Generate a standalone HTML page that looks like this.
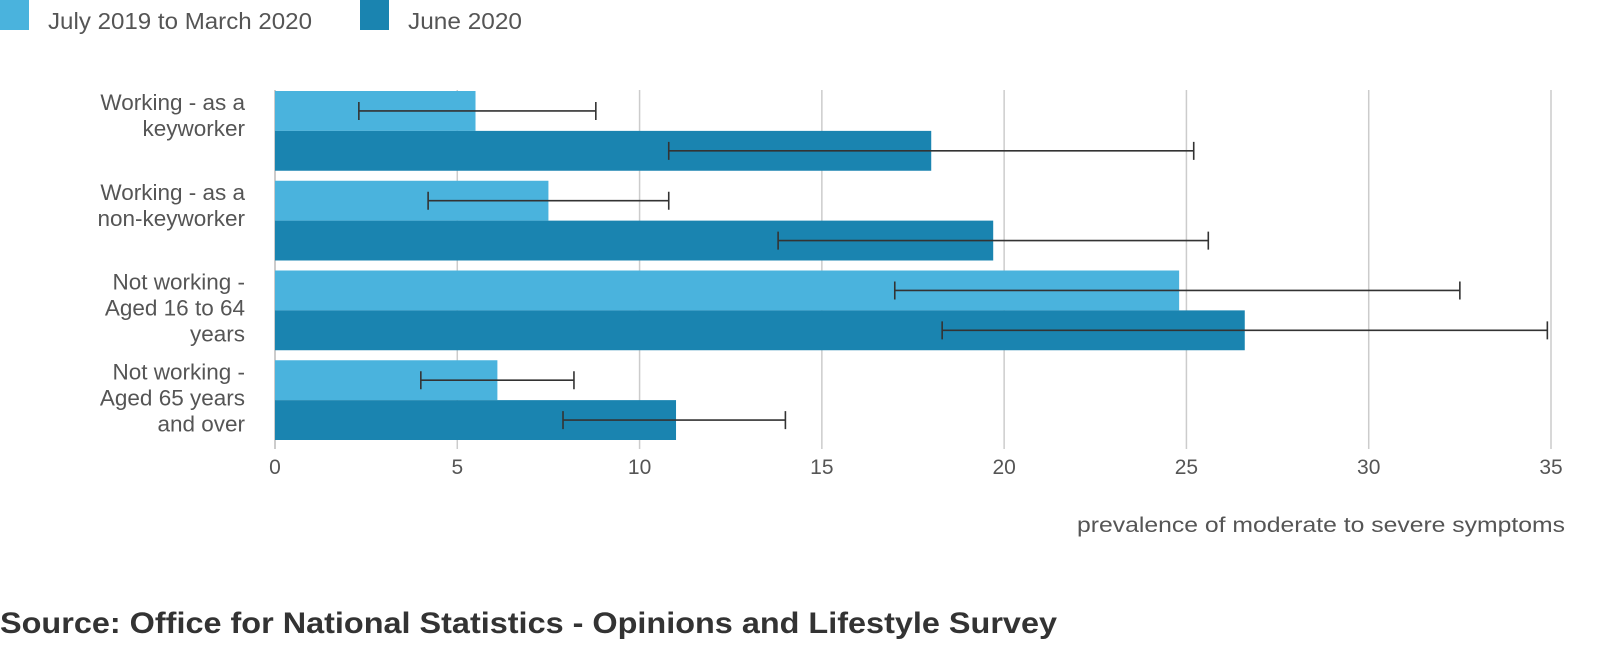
<!DOCTYPE html>
<html><head><meta charset="utf-8"><style>
body{margin:0;background:#fff;width:1597px;height:653px;overflow:hidden;font-family:"Liberation Sans",sans-serif;}
svg text{font-family:"Liberation Sans",sans-serif;fill:#555;}
</style></head><body>
<svg id="chart" width="1597" height="653">
<g>
<rect x="0" y="0" width="29" height="30" fill="#4ab3dd"/>
<text x="48" y="29" font-size="23" textLength="264" lengthAdjust="spacingAndGlyphs">July 2019 to March 2020</text>
<rect x="360" y="0" width="29" height="30" fill="#1a84b0"/>
<text x="408" y="29" font-size="23" textLength="114" lengthAdjust="spacingAndGlyphs">June 2020</text>
</g>
<g id="grid"></g><g id="bars"></g><g id="labels"></g>
<text x="1077" y="532" font-size="21" textLength="488" lengthAdjust="spacingAndGlyphs">prevalence of moderate to severe symptoms</text>
<text x="0" y="633" font-size="30" font-weight="bold" textLength="1057" lengthAdjust="spacingAndGlyphs" style="fill:#333">Source: Office for National Statistics - Opinions and Lifestyle Survey</text>
</svg>
<script>
const categories=[["Working - as a","keyworker"],["Working - as a","non-keyworker"],["Not working -","Aged 16 to 64","years"],["Not working -","Aged 65 years","and over"]];
const series1=[5.5,7.5,24.8,6.1];
const series1Low=[2.3,4.2,17.0,4.0];
const series1High=[8.8,10.8,32.5,8.2];
const series2=[18.0,19.7,26.6,11.0];
const series2Low=[10.8,13.8,18.3,7.9];
const series2High=[25.2,25.6,34.9,14.0];
const ticks=[0,5,10,15,20,25,30,35];
const NS="http://www.w3.org/2000/svg";
const X0=275,X1=1551,TOP=90,BOTTOM=449;
const xs=v=>X0+(X1-X0)*v/35;
const band=(BOTTOM-TOP)/categories.length;
function mk(tag,attrs,parent){const e=document.createElementNS(NS,tag);for(const k in attrs)e.setAttribute(k,attrs[k]);document.getElementById(parent).appendChild(e);return e;}
ticks.forEach(t=>{
 const l=mk('line',{x1:xs(t),x2:xs(t),y1:TOP,y2:BOTTOM,stroke:t===0?'#bbb':'#ccc','stroke-width':1.5},'grid');
 
 
 const tx=mk('text',{x:xs(t),y:474,'font-size':21,'text-anchor':'middle'},'grid');
 tx.textContent=t;
 
 
});
categories.forEach((c,i)=>{
 const y=TOP+band*i+1;const h=(band-10)/2;
 [[series1,series1Low,series1High,'#4ab3dd'],[series2,series2Low,series2High,'#1a84b0']].forEach((s,j)=>{
  const yy=y+j*h;
  const r=mk('rect',{x:X0,y:yy,width:xs(s[0][i])-X0,height:h,fill:s[3]},'bars');
  
  
  const cy=yy+h/2,a=xs(s[1][i]),b=xs(s[2][i]);
  const g=mk('path',{d:`M${a},${cy}H${b}M${a},${cy-9}V${cy+9}M${b},${cy-9}V${cy+9}`,stroke:'#333','stroke-width':1.6,fill:'none'},'bars');
  
  
 });
 const ty=TOP+band*i;
 c.forEach((line,k)=>{
  const t=mk('text',{x:245,y:ty+20+k*26,'font-size':22.5,'text-anchor':'end'},'labels');
  t.textContent=line;
  
  
 });
});
</script>
</body></html>
